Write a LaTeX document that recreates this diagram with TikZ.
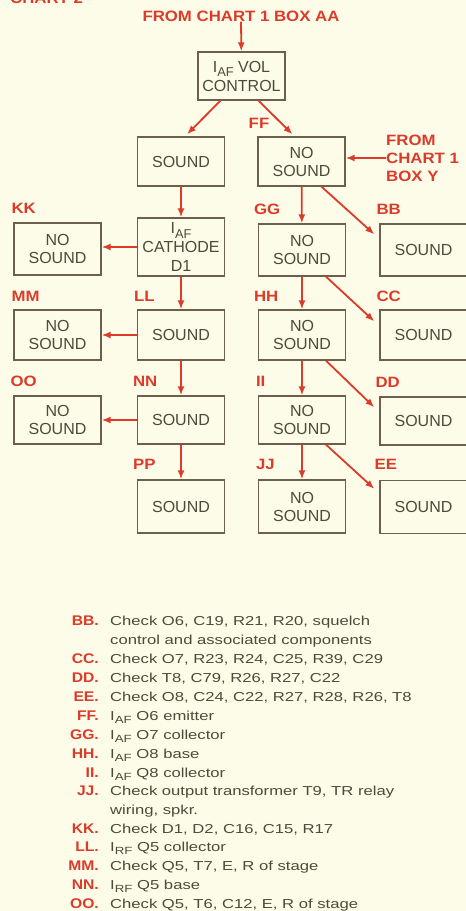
\documentclass[tikz,border=0pt]{standalone}
\usepackage{fontspec}
\setmainfont{Liberation Sans}
\newfontfamily\boxfont{Liberation Sans}
\newfontfamily\legfont[FakeStretch=1.28]{Liberation Sans}
\newfontfamily\redfont[FakeStretch=1.12]{Liberation Sans}
\usetikzlibrary{arrows.meta,calc}

\definecolor{chartred}{HTML}{DC3B2A}
\definecolor{boxline}{HTML}{6E5E4C}
\definecolor{boxtext}{HTML}{4B4A3C}
\definecolor{paper}{HTML}{FCFCE8}

\newcommand{\lowsub}[1]{\raisebox{-0.3em}{\scalebox{0.8}{#1}}}

\tikzset{
  testbox/.style={draw=boxline, line width=1.3pt, minimum width=87pt, minimum height=50pt,
    inner sep=1pt, align=center, text=boxtext, font=\fontsize{16}{18}\boxfont},
  flow/.style={draw=chartred, line width=1.8pt, -{Latex[length=9pt,width=7pt]}},
  tag/.style={text=chartred, font=\fontsize{15}{18}\redfont\bfseries, inner sep=0pt},
  legtag/.style={text=chartred, font=\fontsize{14}{16}\redfont\bfseries, inner sep=0pt, anchor=base east},
  legtext/.style={text=boxtext, font=\fontsize{13}{15}\legfont, inner sep=0pt, anchor=base west},
}

\begin{document}
\begin{tikzpicture}[x=1pt, y=-1pt]
    % 背景
    \fill[paper] (0,0) rectangle (466,911);
    \useasboundingbox (0,0) rectangle (466,911);
    \node[tag, anchor=base west] (chart) at (10,3.5) {CHART 2};

    % 顶部
    \node[tag] (fromaa) at (241,16) {FROM CHART 1 BOX AA};
    \node[testbox, minimum height=48pt, font=\fontsize{16}{19}\boxfont] (vol) at (241.5,76) {I\lowsub{AF} VOL\\CONTROL};
    \node[testbox, minimum height=49pt] (s1) at (181,161.5) {SOUND};
    \node[testbox, minimum height=49pt] (n1) at (301.5,161.5) {NO\\SOUND};
    \node[tag, align=left, anchor=west] (fromy) at (386,158) {FROM\\CHART 1\\BOX Y};
    \node[tag] (fflab) at (259,123) {FF};

    % 左两列
    \node[testbox, minimum height=52pt] (kk) at (57.5,249) {NO\\SOUND};
    \node[testbox, minimum height=58pt, font=\fontsize{16}{19}\boxfont] (cath) at (181,247) {I\lowsub{AF}\\CATHODE\\D1};
    \node[testbox] (mm) at (57.5,335) {NO\\SOUND};
    \node[testbox] (ll) at (181,335) {SOUND};
    \node[testbox, minimum height=48pt] (oo) at (57.5,420) {NO\\SOUND};
    \node[testbox, minimum height=48pt] (nn) at (181,420) {SOUND};
    \node[testbox, minimum height=53pt] (pp) at (181,506.5) {SOUND};

    % 右两列
    \node[testbox, minimum height=52pt] (gg) at (302,250) {NO\\SOUND};
    \node[testbox, minimum height=52pt] (bb) at (423.5,250) {SOUND};
    \node[testbox] (hh) at (302,335) {NO\\SOUND};
    \node[testbox] (cc) at (423.5,335) {SOUND};
    \node[testbox, minimum height=48pt] (ii) at (302,420) {NO\\SOUND};
    \node[testbox, minimum height=48pt] (dd) at (423.5,421) {SOUND};
    \node[testbox, minimum height=53pt] (jj) at (302,506.5) {NO\\SOUND};
    \node[testbox, minimum height=53pt] (ee) at (423.5,507) {SOUND};

    % 框上标记
    \node[tag, anchor=west] (kklab) at ($(kk.north west)+(-2,-14)$) {KK};
    \node[tag, anchor=west] (mmlab) at ($(mm.north west)+(-2,-13)$) {MM};
    \node[tag, anchor=west] (oolab) at ($(oo.north west)+(-3,-14)$) {OO};
    \node[tag, anchor=west] (lllab) at ($(ll.north west)+(-3,-13)$) {LL};
    \node[tag, anchor=west] (nnlab) at ($(nn.north west)+(-4,-14)$) {NN};
    \node[tag, anchor=west] (pplab) at ($(pp.north west)+(-4,-15)$) {PP};
    \node[tag, anchor=west] (gglab) at ($(gg.north west)+(-4,-14)$) {GG};
    \node[tag, anchor=west] (hhlab) at ($(hh.north west)+(-4,-13)$) {HH};
    \node[tag, anchor=west] (iilab) at ($(ii.north west)+(-2,-14)$) {II};
    \node[tag, anchor=west] (jjlab) at ($(jj.north west)+(-2,-15)$) {JJ};
    \node[tag, anchor=west] (bblab) at ($(bb.north west)+(-3,-14)$) {BB};
    \node[tag, anchor=west] (cclab) at ($(cc.north west)+(-3,-13)$) {CC};
    \node[tag, anchor=west] (ddlab) at ($(dd.north west)+(-4,-14)$) {DD};
    \node[tag, anchor=west] (eelab) at ($(ee.north west)+(-5,-16)$) {EE};

    % 箭头
    \draw[flow] (fromaa) -- (vol);
    \draw[flow] ($(vol.south)+(-21,0)$) -- ($(s1.north)+(6,-2)$);
    \draw[flow] ($(vol.south)+(17,0)$) -- ($(n1.north)+(-9,-2)$);
    \draw[flow] (fromy.west) -- (n1.east |- fromy.west);
    \draw[flow] (s1) -- (cath);
    \draw[flow] (cath.west) -- (cath.west -| kk.east);
    \draw[flow] (cath) -- (ll);
    \draw[flow] (ll.west) -- (ll.west -| mm.east);
    \draw[flow] (ll) -- (nn);
    \draw[flow] (nn.west) -- (nn.west -| oo.east);
    \draw[flow] (nn) -- (pp);
    \draw[flow] (n1) -- (gg);
    \draw[flow] (gg) -- (hh);
    \draw[flow] (hh) -- (ii);
    \draw[flow] (ii) -- (jj);
    \draw[flow] ($(n1.south)+(20,0)$) -- ($(bb.north west)+(-5,11)$);
    \draw[flow] ($(gg.south)+(24,0)$) -- ($(cc.north west)+(-5,12)$);
    \draw[flow] ($(hh.south)+(24,0)$) -- ($(dd.north west)+(-5,11)$);
    \draw[flow] ($(ii.south)+(24,0)$) -- ($(ee.north west)+(-5,9)$);

    % 说明
    \node[legtag] (bbkey) at (99,625) {BB.};
    \node[legtext] (bbnote) at (110,625) {Check O6, C19, R21, R20, squelch};
    \node[legtext] (bbnote2) at (110,644) {control and associated components};
    \node[legtag] (cckey) at (99,663) {CC.};
    \node[legtext] (ccnote) at (110,663) {Check O7, R23, R24, C25, R39, C29};
    \node[legtag] (ddkey) at (99,682) {DD.};
    \node[legtext] (ddnote) at (110,682) {Check T8, C79, R26, R27, C22};
    \node[legtag] (eekey) at (99,701) {EE.};
    \node[legtext] (eenote) at (110,701) {Check O8, C24, C22, R27, R28, R26, T8};
    \node[legtag] (ffkey) at (99,720) {FF.};
    \node[legtext] (ffnote) at (110,720) {I\lowsub{AF} O6 emitter};
    \node[legtag] (ggkey) at (99,739) {GG.};
    \node[legtext] (ggnote) at (110,739) {I\lowsub{AF} O7 collector};
    \node[legtag] (hhkey) at (99,758) {HH.};
    \node[legtext] (hhnote) at (110,758) {I\lowsub{AF} O8 base};
    \node[legtag] (iikey) at (99,777) {II.};
    \node[legtext] (iinote) at (110,777) {I\lowsub{AF} Q8 collector};
    \node[legtag] (jjkey) at (99,795) {JJ.};
    \node[legtext] (jjnote) at (110,795) {Check output transformer T9, TR relay};
    \node[legtext] (jjnote2) at (110,814) {wiring, spkr.};
    \node[legtag] (kkkey) at (99,833) {KK.};
    \node[legtext] (kknote) at (110,833) {Check D1, D2, C16, C15, R17};
    \node[legtag] (llkey) at (99,851) {LL.};
    \node[legtext] (llnote) at (110,851) {I\lowsub{RF} Q5 collector};
    \node[legtag] (mmkey) at (99,870) {MM.};
    \node[legtext] (mmnote) at (110,870) {Check Q5, T7, E, R of stage};
    \node[legtag] (nnkey) at (99,889) {NN.};
    \node[legtext] (nnnote) at (110,889) {I\lowsub{RF} Q5 base};
    \node[legtag] (ookey) at (99,908) {OO.};
    \node[legtext] (oonote) at (110,908) {Check Q5, T6, C12, E, R of stage};
\end{tikzpicture}
\end{document}
